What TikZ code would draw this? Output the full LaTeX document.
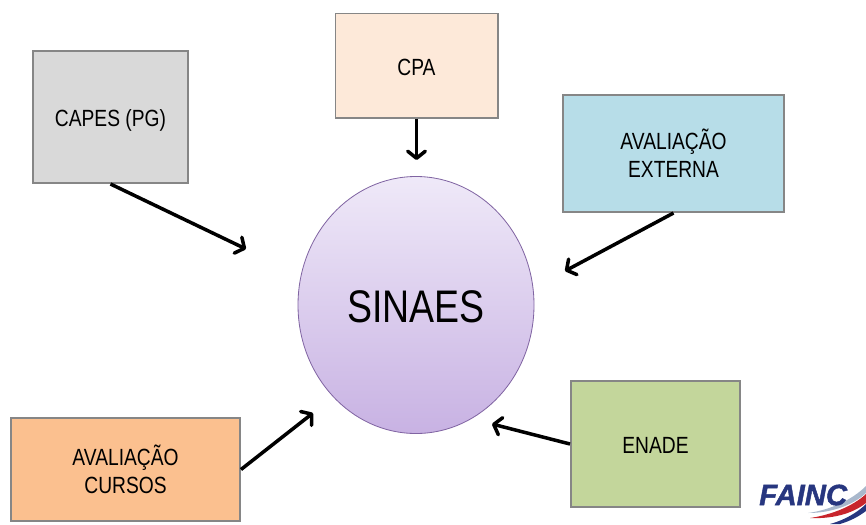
\documentclass[tikz,border=0pt]{standalone}
\usepackage{fontspec}
\setmainfont{Liberation Sans}
\newfontfamily\narrowfont[FakeStretch=0.82]{Liberation Sans}
\newfontfamily\logofont[BoldItalicFeatures={FakeBold=1.5}]{Liberation Sans}
\usepackage{tikz}
\usetikzlibrary{arrows.meta}
\usetikzlibrary{positioning}
\usetikzlibrary{shapes.geometric}
\definecolor{capesfill}{HTML}{D9D9D9}
\definecolor{cpafill}{HTML}{FDE9D9}
\definecolor{externafill}{HTML}{B7DDE8}
\definecolor{cursosfill}{HTML}{FBC08F}
\definecolor{enadefill}{HTML}{C3D69B}
\definecolor{boxline}{HTML}{868686}
\definecolor{sinaesline}{HTML}{8064A2}
\definecolor{sinaestop}{HTML}{EFE9F8}
\definecolor{sinaesbottom}{HTML}{C8B2E3}
\definecolor{faincblue}{HTML}{27367F}
\definecolor{faincred}{HTML}{C8252C}
\definecolor{faincgray}{HTML}{A9B8CC}
\tikzset{box/.style = {draw=boxline, line width=1.7pt, align=center, inner sep=0pt,
                       font=\narrowfont\fontsize{20}{24}\selectfont}}
\tikzset{oneline/.style = {text height=17pt, text depth=0pt}}
\tikzset{link/.style = {line width=3pt, -{Straight Barb[length=6pt, width=15pt, line width=3pt, round]}}}

\begin{document}
\begin{tikzpicture}[x=0.03cm, y=-0.03cm]
	\useasboundingbox (0,0) rectangle (866,524);
	\node [ellipse, draw=sinaesline, line width=0.7pt, top color=sinaestop, bottom color=sinaesbottom,
		minimum width=236*0.03cm, minimum height=257*0.03cm, inner sep=0pt, text height=29.7pt, text depth=0pt,
		font=\narrowfont\fontsize{39}{42}\selectfont] (sinaes) at (416,305) {SINAES};
	\node [box, oneline, fill=capesfill, minimum width=155*0.03cm, minimum height=132*0.03cm] (capes) at (110.5,117) {CAPES (PG)};
	\node [box, oneline, fill=cpafill, minimum width=162*0.03cm, minimum height=104*0.03cm] (cpa) at (416.5,65.5) {CPA};
	\node [box, fill=externafill, minimum width=221*0.03cm, minimum height=117*0.03cm] (externa) at (673.5,153.5) {AVALIAÇÃO\\EXTERNA};
	\node [box, oneline, fill=enadefill, minimum width=169*0.03cm, minimum height=126*0.03cm] (enade) at (655.5,444) {ENADE};
	\node [box, fill=cursosfill, minimum width=229*0.03cm, minimum height=103*0.03cm] (cursos) at (125.5,469.5) {AVALIAÇÃO\\CURSOS};
	\coordinate (capesend) at (246,249);
	\coordinate (cpaend) at (416.5,160);
	\coordinate (externaend) at (565,271);
	\coordinate (enadeend) at (492,424);
	\coordinate (cursosend) at (313,413);
	\draw [link] (capes.south) -- (capesend);
	\draw [link] (cpa.south) -- (cpaend);
	\draw [link] (externa.south) -- (externaend);
	\draw [link] (enade.west) -- (enadeend);
	\draw [link] (cursos.east) -- (cursosend);
	\begin{scope}
		\clip (740,470) rectangle (866,524);
		\fill [faincgray] (808,513) .. controls (830,510) and (852,500) .. (866,486) -- (866,493) .. controls (852,506) and (830,513) .. (808,513);
		\fill [faincred] (810,518) .. controls (830,515) and (852,507) .. (866,494) -- (866,503) .. controls (852,514) and (832,519) .. (810,518);
		\fill [faincblue] (830,524) .. controls (845,520) and (858,512) .. (866,504) -- (866,511) .. controls (858,517) and (850,521) .. (840,524) -- cycle;
		\node [anchor=west, inner sep=0pt, text=faincblue, font=\logofont\fontsize{25}{25}\selectfont\bfseries\itshape] (fainc) at (759,495) {FAINC};
	\end{scope}
\end{tikzpicture}
\end{document}
